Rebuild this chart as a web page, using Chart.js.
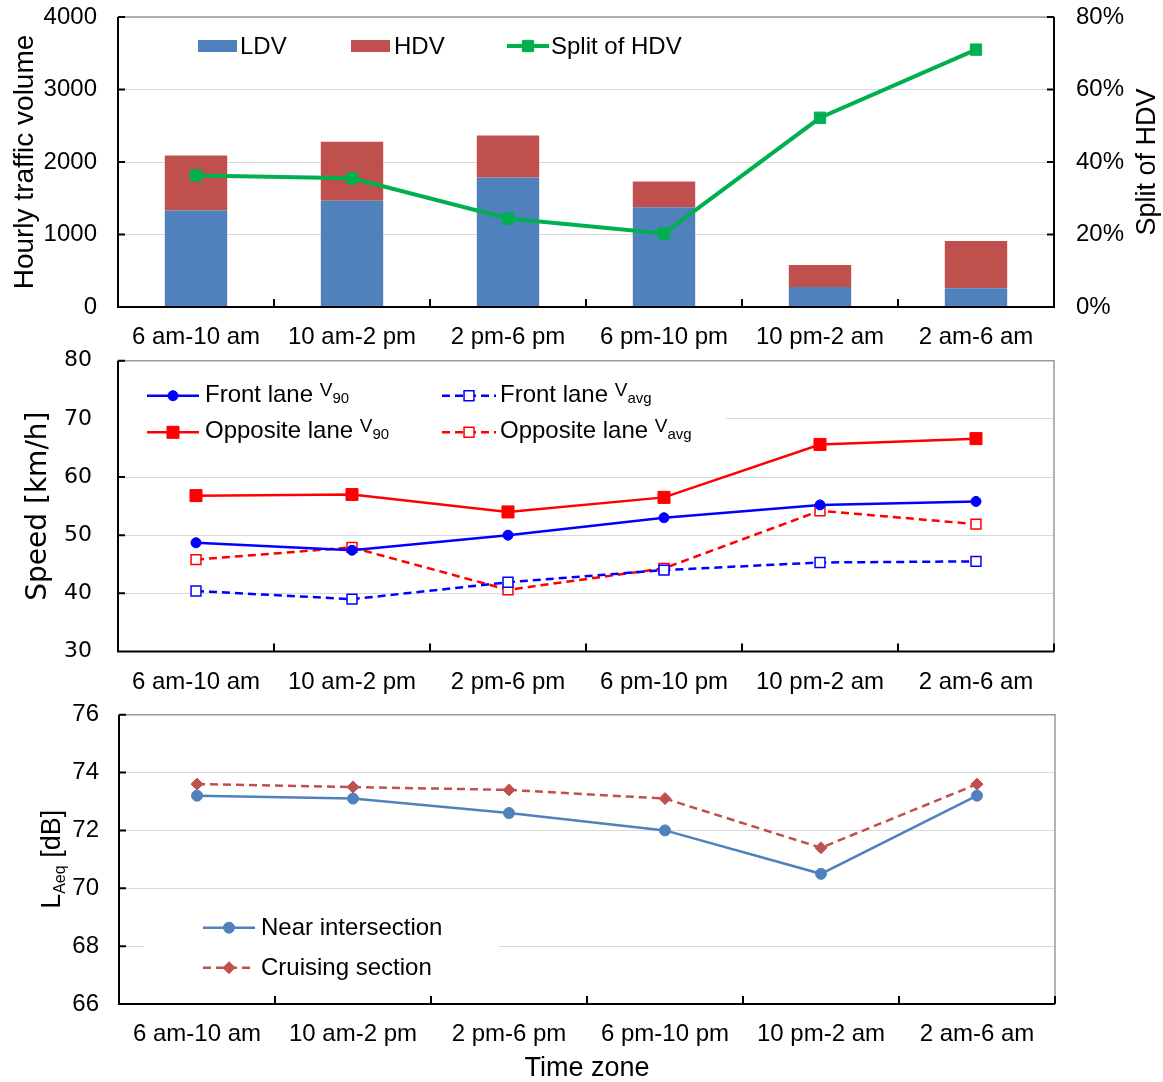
<!DOCTYPE html>
<html>
<head>
<meta charset="utf-8">
<script src="https://cdn.jsdelivr.net/npm/chart.js@4.4.1/dist/chart.umd.min.js"></script>
<style>
  body { margin: 0; background: #fff; }
  canvas { position: absolute; left: 0; }
</style>
</head>
<body>
<canvas id="trafficChart" width="1163" height="360" style="top:0"></canvas>
<canvas id="speedChart" width="1163" height="360" style="top:345px"></canvas>
<canvas id="noiseChart" width="1163" height="387" style="top:695px"></canvas>

<script>
// ---- data ----
const timeZones = ['6 am-10 am', '10 am-2 pm', '2 pm-6 pm', '6 pm-10 pm', '10 pm-2 am', '2 am-6 am'];

const ldvVolume = [1330, 1465, 1785, 1375, 275, 260];
const hdvVolume = [760, 815, 580, 355, 305, 650];
const hdvSplit  = [36.3, 35.5, 24.4, 20.3, 52.2, 71.0];   // %

const frontV90     = [48.7, 47.4, 50.0, 53.0, 55.2, 55.8];
const oppositeV90  = [56.8, 57.0, 54.0, 56.5, 65.6, 66.6];
const frontVavg    = [40.4, 39.0, 41.9, 44.0, 45.3, 45.5];
const oppositeVavg = [45.8, 47.9, 40.6, 44.3, 54.2, 51.9];

const nearIntersection = [73.2, 73.1, 72.6, 72.0, 70.5, 73.2];
const cruisingSection  = [73.6, 73.5, 73.4, 73.1, 71.4, 73.6];

const volumeTicks = [0, 1000, 2000, 3000, 4000];
const splitTicks  = [0, 20, 40, 60, 80];
const speedTicks  = [30, 40, 50, 60, 70, 80];
const noiseTicks  = [66, 68, 70, 72, 74, 76];

const ARIAL = "'Liberation Sans', Arial, sans-serif";
const DEJAVU = "'DejaVu Sans', Verdana, sans-serif";
Chart.defaults.font.family = ARIAL;
Chart.defaults.color = '#000';

const HIDDEN = 'rgba(0,0,0,0)';
// gap between y labels and the axis is done with an invisible tick mark,
// ticks.padding would also push the plot area down
const yGrid = gap => ({ color: '#D9D9D9', drawTicks: true, tickLength: gap, tickColor: HIDDEN });

// Excel-like frame: black left/bottom axes, grey top/right, inward tick marks
function excelFrame(rightAxis) {
  return {
    id: 'excelFrame',
    afterDatasetsDraw(chart) {
      const { ctx, chartArea: a, scales } = chart;
      ctx.save();
      ctx.strokeStyle = '#9a9a9a';
      ctx.lineWidth = 1.5;
      ctx.beginPath();
      ctx.moveTo(a.left, a.top);
      ctx.lineTo(a.right, a.top);
      if (!rightAxis) ctx.lineTo(a.right, a.bottom);
      ctx.stroke();

      ctx.strokeStyle = '#000';
      ctx.lineWidth = 2;
      ctx.beginPath();
      ctx.moveTo(a.left, a.top);
      ctx.lineTo(a.left, a.bottom);
      ctx.lineTo(a.right, a.bottom);
      if (rightAxis) ctx.lineTo(a.right, a.top);
      const n = chart.data.labels.length;
      const step = (a.right - a.left) / n;
      for (let i = 1; i <= n; i++) {
        ctx.moveTo(a.left + i * step, a.bottom);
        ctx.lineTo(a.left + i * step, a.bottom - 8);
      }
      scales.y.ticks.forEach(t => {
        const y = scales.y.getPixelForValue(t.value);
        ctx.moveTo(a.left, y);
        ctx.lineTo(a.left + 7, y);
      });
      if (rightAxis && scales.y2) {
        scales.y2.ticks.forEach(t => {
          const y = scales.y2.getPixelForValue(t.value);
          ctx.moveTo(a.right, y);
          ctx.lineTo(a.right - 7, y);
        });
      }
      ctx.stroke();
      ctx.restore();
    }
  };
}

// text in pieces so that sub/superscripts can be used
function drawParts(ctx, parts, x, baseline) {
  parts.forEach(p => {
    ctx.font = (p.size || 24) + 'px ' + ARIAL;
    ctx.fillText(p.t, x, baseline + (p.dy || 0));
    x += ctx.measureText(p.t).width;
  });
}

// vertical axis title reading bottom-to-top, centred on the plot area
function rotatedTitle(id, parts, baseX) {
  return {
    id: id,
    afterDraw(chart) {
      const { ctx, chartArea: a } = chart;
      ctx.save();
      let total = 0;
      parts.forEach(p => { ctx.font = (p.size || 24) + 'px ' + ARIAL; total += ctx.measureText(p.t).width; });
      ctx.translate(baseX, (a.top + a.bottom) / 2 + total / 2);
      ctx.rotate(-Math.PI / 2);
      ctx.fillStyle = '#000';
      ctx.textAlign = 'left';
      ctx.textBaseline = 'alphabetic';
      drawParts(ctx, parts, 0, 0);
      ctx.restore();
    }
  };
}

function customLegend(items, box) {
  return {
    id: 'customLegend',
    afterDatasetsDraw(chart) {
      const ctx = chart.ctx;
      ctx.save();
      if (box) {
        ctx.fillStyle = '#fff';
        ctx.fillRect(box[0], box[1], box[2] - box[0], box[3] - box[1]);
      }
      items.forEach(it => {
        const ds = chart.data.datasets[it.ds];
        const y = it.y;
        if (it.kind === 'box') {
          ctx.fillStyle = ds.backgroundColor;
          ctx.fillRect(it.x0, y - 6, it.x1 - it.x0, 12);
        } else {
          ctx.strokeStyle = ds.borderColor;
          ctx.lineWidth = ds.borderWidth;
          ctx.setLineDash(ds.borderDash || []);
          ctx.beginPath();
          ctx.moveTo(it.x0, y);
          ctx.lineTo(it.x1, y);
          ctx.stroke();
          ctx.setLineDash([]);
          ctx.fillStyle = ds.pointBackgroundColor;
          ctx.strokeStyle = ds.pointBorderColor;
          ctx.lineWidth = ds.pointBorderWidth;
          Chart.helpers.drawPoint(ctx, {
            pointStyle: ds.pointStyle, radius: ds.pointRadius,
            borderWidth: ds.pointBorderWidth, rotation: 0
          }, (it.x0 + it.x1) / 2, y);
        }
        ctx.fillStyle = '#000';
        ctx.textBaseline = 'alphabetic';
        ctx.textAlign = 'left';
        drawParts(ctx, it.parts, it.tx, it.base);
      });
      ctx.restore();
    }
  };
}

const xTicks = { font: { size: 24 }, padding: 8, maxRotation: 0, autoSkip: false };
const plain = v => String(v);

// ================= panel 1: traffic volume =================
new Chart(document.getElementById('trafficChart'), {
  type: 'bar',
  data: {
    labels: timeZones,
    datasets: [
      {
        type: 'line', label: 'Split of HDV', data: hdvSplit, yAxisID: 'y2', order: 0,
        borderColor: '#00B050', borderWidth: 4,
        pointStyle: 'rect', pointRadius: 8, pointBackgroundColor: '#00B050',
        pointBorderColor: '#00B050', pointBorderWidth: 1
      },
      { label: 'LDV', data: ldvVolume, backgroundColor: '#4F81BD', order: 1 },
      { label: 'HDV', data: hdvVolume, backgroundColor: '#C0504D', order: 1 }
    ]
  },
  options: {
    responsive: false, animation: false, events: [],
    layout: { padding: { top: 17, left: 0, right: 0, bottom: 0 } },
    datasets: { bar: { barPercentage: 0.4, categoryPercentage: 1 } },
    plugins: { legend: { display: false }, tooltip: { enabled: false } },
    scales: {
      x: {
        stacked: true, offset: true,
        grid: { display: false }, border: { display: false },
        ticks: xTicks,
        afterFit: s => { s.height = 53; }
      },
      y: {
        stacked: true, min: volumeTicks[0], max: volumeTicks[volumeTicks.length - 1],
        ticks: { stepSize: volumeTicks[1] - volumeTicks[0], font: { size: 24 }, padding: 0, callback: plain },
        grid: yGrid(21), border: { display: false },
        title: { display: true, text: 'Hourly traffic volume', font: { size: 28 }, padding: { top: 8, bottom: 0 } },
        afterFit: s => { s.width = 118; }
      },
      y2: {
        position: 'right', min: splitTicks[0], max: splitTicks[splitTicks.length - 1],
        ticks: { stepSize: splitTicks[1] - splitTicks[0], font: { size: 24 }, padding: 0, callback: v => v + '%' },
        grid: { display: true, drawOnChartArea: false, color: HIDDEN, drawTicks: true, tickLength: 22, tickColor: HIDDEN },
        border: { display: false },
        afterFit: s => { s.width = 109; }
      }
    }
  },
  plugins: [
    excelFrame(true),
    rotatedTitle('splitTitle', [{ t: 'Split of HDV', size: 27 }], 1155),
    customLegend([
      { ds: 1, kind: 'box', x0: 198, x1: 237, y: 46, tx: 240, base: 54, parts: [{ t: 'LDV' }] },
      { ds: 2, kind: 'box', x0: 351, x1: 390, y: 46, tx: 394, base: 54, parts: [{ t: 'HDV' }] },
      { ds: 0, kind: 'line', x0: 507, x1: 549, y: 46, tx: 551, base: 54, parts: [{ t: 'Split of HDV' }] }
    ])
  ]
});

// ================= panel 2: speed =================
const lineStyle = (color, dashed, style, radius, open) => ({
  borderColor: color, borderWidth: 2.5, borderDash: dashed ? [8, 5] : [],
  pointStyle: style, pointRadius: radius,
  pointBackgroundColor: open ? '#fff' : color, pointBorderColor: color,
  pointBorderWidth: open ? 1.5 : 1, fill: false, tension: 0
});

new Chart(document.getElementById('speedChart'), {
  type: 'line',
  data: {
    labels: timeZones,
    datasets: [
      Object.assign({ label: 'Front lane V90', data: frontV90 }, lineStyle('#0000FF', false, 'circle', 5, false)),
      Object.assign({ label: 'Opposite lane V90', data: oppositeV90 }, lineStyle('#FF0000', false, 'rect', 8.5, false)),
      Object.assign({ label: 'Front lane Vavg', data: frontVavg }, lineStyle('#0000FF', true, 'rect', 7, true)),
      Object.assign({ label: 'Opposite lane Vavg', data: oppositeVavg }, lineStyle('#FF0000', true, 'rect', 7, true))
    ]
  },
  options: {
    responsive: false, animation: false, events: [],
    layout: { padding: { top: 15.7, left: 0, right: 109, bottom: 0 } },
    plugins: { legend: { display: false }, tooltip: { enabled: false } },
    scales: {
      x: {
        offset: true, grid: { display: false }, border: { display: false },
        ticks: xTicks,
        afterFit: s => { s.height = 53.5; }
      },
      y: {
        min: speedTicks[0], max: speedTicks[speedTicks.length - 1],
        ticks: { stepSize: speedTicks[1] - speedTicks[0], font: { size: 22, family: DEJAVU }, padding: 0, callback: plain },
        grid: yGrid(26), border: { display: false },
        title: { display: true, text: 'Speed [km/h]', font: { size: 28, family: DEJAVU }, padding: { top: 22, bottom: 0 } },
        afterFit: s => { s.width = 118; }
      }
    }
  },
  plugins: [
    excelFrame(false),
    customLegend([
      { ds: 0, kind: 'line', x0: 147, x1: 199, y: 50.7, tx: 205, base: 56.7,
        parts: [{ t: 'Front lane ' }, { t: 'V', size: 19, dy: -6 }, { t: '90', size: 15, dy: 1 }] },
      { ds: 1, kind: 'line', x0: 147, x1: 199, y: 87.3, tx: 205, base: 93.3,
        parts: [{ t: 'Opposite lane ' }, { t: 'V', size: 19, dy: -6 }, { t: '90', size: 15, dy: 1 }] },
      { ds: 2, kind: 'line', x0: 442, x1: 496, y: 50.7, tx: 500, base: 56.7,
        parts: [{ t: 'Front lane ' }, { t: 'V', size: 19, dy: -6 }, { t: 'avg', size: 15, dy: 1 }] },
      { ds: 3, kind: 'line', x0: 442, x1: 496, y: 87.3, tx: 500, base: 93.3,
        parts: [{ t: 'Opposite lane ' }, { t: 'V', size: 19, dy: -6 }, { t: 'avg', size: 15, dy: 1 }] }
    ], [119, 30, 726, 105])
  ]
});

// ================= panel 3: noise level =================
const noiseAxisTitle = [{ t: 'L', size: 27 }, { t: 'Aeq', size: 16, dy: 5 }, { t: ' [dB]', size: 27 }];

new Chart(document.getElementById('noiseChart'), {
  type: 'line',
  data: {
    labels: timeZones,
    datasets: [
      Object.assign({ label: 'Near intersection', data: nearIntersection }, lineStyle('#4F81BD', false, 'circle', 5.5, false)),
      Object.assign({ label: 'Cruising section', data: cruisingSection }, lineStyle('#C0504D', true, 'rectRot', 6, false))
    ]
  },
  options: {
    responsive: false, animation: false, events: [],
    layout: { padding: { top: 19.7, left: 0, right: 108, bottom: 0 } },
    plugins: { legend: { display: false }, tooltip: { enabled: false } },
    scales: {
      x: {
        offset: true, grid: { display: false }, border: { display: false },
        ticks: xTicks,
        title: { display: true, text: 'Time zone', font: { size: 27, lineHeight: 1 }, padding: 0 },
        afterFit: s => { s.height = 78; }
      },
      y: {
        min: noiseTicks[0], max: noiseTicks[noiseTicks.length - 1],
        ticks: { stepSize: noiseTicks[1] - noiseTicks[0], font: { size: 24 }, padding: 0, callback: plain },
        grid: yGrid(20), border: { display: false },
        afterFit: s => { s.width = 119; }
      }
    }
  },
  plugins: [
    excelFrame(false),
    rotatedTitle('laeqTitle', noiseAxisTitle, 60),
    customLegend([
      { ds: 0, kind: 'line', x0: 203, x1: 255, y: 232.7, tx: 261, base: 240, parts: [{ t: 'Near intersection' }] },
      { ds: 1, kind: 'line', x0: 203, x1: 255, y: 272.7, tx: 261, base: 280, parts: [{ t: 'Cruising section' }] }
    ], [144, 211, 499, 293])
  ]
});
</script>
</body>
</html>
